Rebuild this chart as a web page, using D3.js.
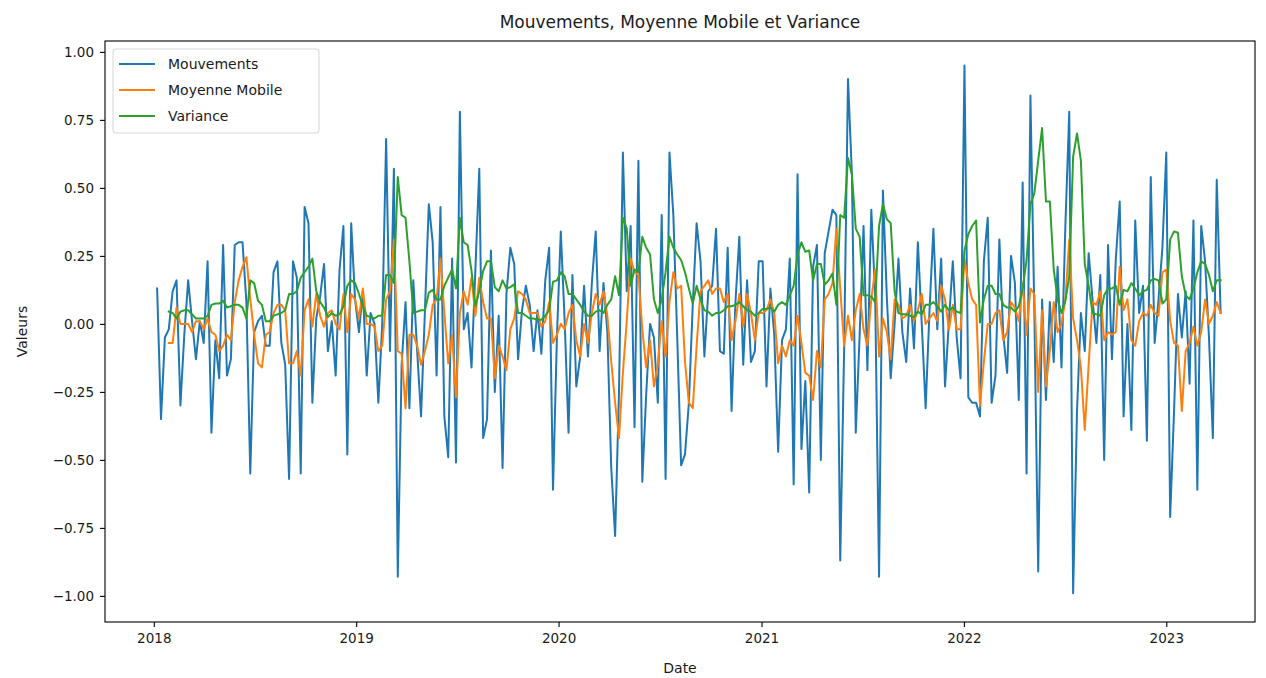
<!DOCTYPE html>
<meta charset="utf-8">
<html>
<head>
<style>
  body { margin: 0; background: #fff; }
  svg text { font-family: 'DejaVu Sans', sans-serif; fill: #1a1a1a; }
  .axis path, .axis line { stroke: #000; }
</style>
</head>
<body>
<svg id="chart" width="1266" height="678"></svg>
<script src="https://cdn.jsdelivr.net/npm/d3@7/dist/d3.min.js"></script>
<script>
// weekly series, first week = 2018-01-07
var startDate = new Date(2018, 0, 7);

var mouvements = [
  0.13, -0.35, -0.05, -0.02, 0.12, 0.16, -0.30, -0.04, 0.16, 0.01,
  -0.13, 0.01, -0.07, 0.23, -0.40, -0.06, -0.20, 0.29, -0.19, -0.13,
  0.29, 0.30, 0.30, 0.08, -0.55, -0.03, 0.01, 0.03, -0.08, -0.08,
  0.19, 0.23, -0.07, -0.15, -0.57, 0.23, 0.17, -0.55, 0.43, 0.37,
  -0.29, 0.02, 0.10, 0.22, -0.10, 0.01, -0.19, 0.20, 0.36, -0.48,
  0.37, 0.09, -0.03, 0.12, -0.19, 0.04, 0.00, -0.29, 0.00, 0.68,
  -0.10, 0.57, -0.93, -0.15, 0.08, -0.31, 0.16, -0.10, -0.34, 0.05,
  0.44, 0.30, -0.19, 0.43, -0.34, -0.49, 0.24, -0.51, 0.78, -0.02,
  0.04, -0.16, 0.20, 0.57, -0.42, -0.35, 0.27, -0.25, 0.03, -0.53,
  0.11, 0.28, 0.22, -0.13, 0.05, 0.14, 0.07, -0.10, 0.05, -0.11,
  0.16, 0.28, -0.61, -0.05, 0.34, 0.01, -0.40, 0.18, -0.23, -0.12,
  0.14, -0.12, 0.15, 0.34, -0.10, 0.15, -0.03, -0.53, -0.78, -0.25,
  0.63, 0.12, 0.36, -0.38, 0.60, -0.58, -0.26, 0.00, -0.05, -0.29,
  0.40, -0.57, 0.63, 0.40, -0.05, -0.52, -0.48, -0.29, 0.07, 0.37,
  0.23, -0.12, 0.12, 0.14, 0.35, -0.10, -0.11, 0.28, -0.32, 0.08,
  0.32, -0.15, 0.16, -0.14, -0.10, 0.23, 0.23, -0.23, 0.13, -0.04,
  -0.47, -0.06, -0.02, 0.24, -0.59, 0.55, -0.46, -0.21, -0.62, 0.21,
  0.29, -0.50, 0.26, 0.34, 0.42, 0.40, -0.87, -0.09, 0.90, 0.55,
  -0.40, -0.04, 0.36, -0.17, 0.42, 0.10, -0.93, 0.49, 0.10, -0.20,
  0.00, 0.24, -0.03, -0.14, 0.13, -0.09, 0.30, 0.00, -0.31, 0.05,
  0.35, -0.02, 0.24, -0.23, 0.01, 0.23, -0.05, -0.20, 0.95, -0.27,
  -0.29, -0.29, -0.34, 0.23, 0.39, -0.29, -0.19, 0.31, -0.04, -0.18,
  0.25, 0.15, -0.28, 0.52, -0.55, 0.84, 0.05, -0.91, 0.09, -0.28,
  0.08, -0.14, 0.21, -0.16, 0.36, 0.78, -0.99, -0.32, 0.04, -0.10,
  0.26, 0.09, -0.07, 0.18, -0.50, 0.29, -0.13, 0.24, 0.45, -0.34,
  0.00, -0.39, 0.38, 0.04, 0.14, -0.43, 0.54, -0.07, 0.09, 0.28,
  0.63, -0.71, -0.32, 0.11, -0.05, 0.12, -0.22, 0.38, -0.61, 0.36,
  0.23, -0.05, -0.42, 0.53, 0.04
];

var moyenneMobile = [
  null, null, null, -0.07, -0.07, 0.06, 0.00, 0.00, 0.00, -0.03,
  0.01, 0.01, -0.02, 0.02, -0.03, -0.04, -0.10, -0.08, -0.04, -0.06,
  0.08, 0.16, 0.21, 0.245, 0.09, -0.04, -0.145, -0.16, -0.04, -0.03,
  0.04, 0.07, 0.07, 0.05, -0.145, -0.145, -0.10, -0.19, 0.05, 0.09,
  -0.01, 0.11, 0.03, -0.01, 0.04, 0.05, 0.00, -0.02, 0.11, -0.03,
  0.11, 0.09, 0.02, 0.13, 0.00, 0.00, -0.01, -0.10, -0.08, 0.09,
  0.12, 0.31, -0.10, -0.11, -0.31, -0.04, -0.04, -0.08, -0.15, -0.10,
  -0.04, 0.07, 0.09, 0.24, 0.04, -0.145, -0.04, -0.27, 0.04, 0.12,
  0.07, 0.17, 0.03, 0.17, 0.08, 0.02, 0.02, -0.20, -0.08, -0.12,
  -0.17, -0.02, 0.02, 0.12, 0.11, 0.09, 0.04, 0.04, 0.04, -0.01,
  0.01, 0.08, -0.07, -0.04, 0.00, -0.02, 0.04, 0.07, -0.06, -0.12,
  0.00, -0.07, 0.04, 0.11, 0.07, 0.12, 0.03, -0.14, -0.29, -0.42,
  -0.18, 0.01, 0.24, 0.19, 0.18, -0.02, -0.16, -0.06, -0.23, -0.15,
  0.01, -0.12, 0.08, 0.19, 0.13, 0.14, -0.14, -0.29, -0.31, -0.08,
  0.12, 0.14, 0.16, 0.11, 0.13, 0.13, 0.08, 0.11, -0.06, 0.01,
  0.11, -0.01, 0.11, 0.04, -0.06, 0.04, 0.04, 0.05, 0.09, 0.04,
  -0.145, -0.08, -0.12, -0.06, -0.08, 0.03, -0.07, -0.18, -0.19, -0.28,
  -0.10, -0.16, 0.09, 0.11, 0.15, 0.35, 0.13, -0.08, 0.03, -0.06,
  0.05, 0.11, -0.02, -0.08, 0.09, 0.20, -0.12, 0.02, -0.03, -0.13,
  0.09, 0.07, 0.02, 0.03, 0.07, 0.01, 0.05, 0.11, 0.00, 0.02,
  0.04, 0.01, 0.14, 0.09, -0.02, 0.07, -0.02, -0.02, 0.24, 0.15,
  0.09, 0.07, -0.30, -0.14, 0.00, 0.00, 0.04, 0.05, -0.06, -0.03,
  0.08, 0.06, 0.01, 0.15, -0.04, 0.13, 0.11, -0.25, 0.05, -0.23,
  -0.10, 0.08, -0.03, 0.00, 0.09, 0.31, 0.02, -0.06, -0.16, -0.39,
  -0.15, 0.08, 0.07, 0.12, -0.06, -0.03, -0.04, -0.03, 0.21, 0.05,
  0.09, -0.06, -0.08, 0.01, 0.04, 0.03, 0.07, 0.04, 0.03, 0.19,
  0.20, 0.01, -0.07, -0.08, -0.32, -0.10, -0.07, -0.01, -0.08, -0.03,
  0.09, 0.00, 0.03, 0.08, 0.04
];

var variance = [
  null, null, null, 0.045, 0.04, 0.02, 0.045, 0.05, 0.05, 0.035,
  0.02, 0.02, 0.02, 0.03, 0.07, 0.075, 0.075, 0.085, 0.06, 0.065,
  0.07, 0.07, 0.06, 0.02, 0.16, 0.15, 0.085, 0.07, 0.01, 0.01,
  0.03, 0.035, 0.04, 0.05, 0.11, 0.11, 0.12, 0.17, 0.19, 0.21,
  0.24, 0.12, 0.08, 0.06, 0.025, 0.04, 0.03, 0.035, 0.065, 0.14,
  0.16, 0.15, 0.11, 0.065, 0.03, 0.025, 0.02, 0.03, 0.03, 0.18,
  0.18, 0.15, 0.54, 0.40, 0.39, 0.23, 0.04, 0.045, 0.05, 0.05,
  0.115, 0.125, 0.09, 0.09, 0.14, 0.17, 0.20, 0.13, 0.39, 0.30,
  0.29, 0.195, 0.065, 0.12, 0.195, 0.23, 0.23, 0.135, 0.12, 0.16,
  0.13, 0.135, 0.145, 0.04, 0.04, 0.03, 0.02, 0.02, 0.015, 0.015,
  0.03, 0.05, 0.155, 0.16, 0.19, 0.175, 0.11, 0.11, 0.09, 0.07,
  0.045, 0.03, 0.03, 0.045, 0.05, 0.04, 0.07, 0.09, 0.175, 0.105,
  0.39, 0.35, 0.14, 0.20, 0.19, 0.32, 0.28, 0.255, 0.09, 0.04,
  0.09, 0.19, 0.32, 0.28, 0.255, 0.235, 0.19, 0.13, 0.075, 0.14,
  0.09, 0.05, 0.045, 0.03, 0.04, 0.04, 0.05, 0.065, 0.065, 0.07,
  0.08, 0.065, 0.05, 0.045, 0.03, 0.04, 0.055, 0.055, 0.06, 0.045,
  0.07, 0.08, 0.07, 0.105, 0.14, 0.255, 0.30, 0.265, 0.27, 0.16,
  0.22, 0.22, 0.145, 0.16, 0.185, 0.07, 0.40, 0.39, 0.61, 0.55,
  0.35, 0.32, 0.105, 0.105, 0.10, 0.08, 0.36, 0.44, 0.385, 0.37,
  0.12, 0.04, 0.035, 0.035, 0.03, 0.025, 0.045, 0.035, 0.07, 0.07,
  0.08, 0.065, 0.045, 0.07, 0.05, 0.06, 0.045, 0.04, 0.27, 0.33,
  0.36, 0.38, 0.005, 0.09, 0.14, 0.14, 0.11, 0.11, 0.07, 0.06,
  0.06, 0.045, 0.065, 0.13, 0.235, 0.44, 0.48, 0.60, 0.72, 0.45,
  0.45, 0.20, 0.09, 0.04, 0.085, 0.175, 0.615, 0.70, 0.60, 0.22,
  0.14, 0.04, 0.035, 0.03, 0.105, 0.13, 0.13, 0.14, 0.07, 0.125,
  0.12, 0.15, 0.13, 0.105, 0.12, 0.125, 0.16, 0.165, 0.16, 0.075,
  0.09, 0.31, 0.34, 0.335, 0.175, 0.105, 0.09, 0.13, 0.19, 0.23,
  0.22, 0.18, 0.12, 0.16, 0.16
];

var seriesNames = ["Mouvements", "Moyenne Mobile", "Variance"];
var colors = ["#1f77b4", "#ff7f0e", "#2ca02c"];
var xTickYears = [2018, 2019, 2020, 2021, 2022, 2023];
var yTickValues = [-1.00, -0.75, -0.50, -0.25, 0.00, 0.25, 0.50, 0.75, 1.00];

// plot box (note: "top" is a reserved window property, so use other names)
var plotLeft = 105, plotRight = 1255, plotTop = 41, plotBottom = 622;

var svg = d3.select("#chart");

var x = d3.scaleTime()
    .domain([new Date(2017, 9, 5), new Date(2023, 5, 10)])
    .range([plotLeft, plotRight]);

var y = d3.scaleLinear()
    .domain([-1.096, 1.040])
    .range([plotBottom, plotTop]);

var dates = mouvements.map(function (d, i) { return d3.timeWeek.offset(startDate, i); });

// lines
var line = d3.line()
    .defined(function (d) { return d[1] != null; })
    .x(function (d) { return x(d[0]); })
    .y(function (d) { return y(d[1]); });

[mouvements, moyenneMobile, variance].forEach(function (serie, k) {
    var pts = serie.map(function (v, i) { return [dates[i], v]; });
    svg.append("path")
        .datum(pts)
        .attr("fill", "none")
        .attr("stroke", colors[k])
        .attr("stroke-width", 2)
        .attr("stroke-linejoin", "round")
        .attr("stroke-linecap", "square")
        .attr("d", line);
});

// axes
var fmt = function (v) { return v.toFixed(2).replace("-", "\u2212"); };

var gx = svg.append("g")
    .attr("class", "axis")
    .attr("transform", "translate(0," + plotBottom + ")")
    .call(d3.axisBottom(x)
        .tickValues(xTickYears.map(function (yr) { return new Date(yr, 0, 1); }))
        .tickFormat(d3.timeFormat("%Y"))
        .tickSize(5)
        .tickPadding(6));

var gy = svg.append("g")
    .attr("class", "axis")
    .attr("transform", "translate(" + plotLeft + ",0)")
    .call(d3.axisLeft(y)
        .tickValues(yTickValues)
        .tickFormat(fmt)
        .tickSize(5)
        .tickPadding(6));

[gx, gy].forEach(function (g) {
    g.select(".domain").remove();
    g.selectAll("text").attr("font-size", 13.5).attr("fill", "#1a1a1a")
        .style("font-family", "'DejaVu Sans', sans-serif");
    g.selectAll("line").attr("stroke-width", 1.1);
});

// frame
svg.append("rect")
    .attr("x", plotLeft).attr("y", plotTop)
    .attr("width", plotRight - plotLeft).attr("height", plotBottom - plotTop)
    .attr("fill", "none").attr("stroke", "#000").attr("stroke-width", 1.1);

// title and labels
svg.append("text")
    .attr("x", (plotLeft + plotRight) / 2).attr("y", 28)
    .attr("text-anchor", "middle")
    .attr("font-size", 17)
    .text("Mouvements, Moyenne Mobile et Variance");

svg.append("text")
    .attr("x", (plotLeft + plotRight) / 2).attr("y", 673)
    .attr("text-anchor", "middle")
    .attr("font-size", 14)
    .text("Date");

svg.append("text")
    .attr("transform", "translate(27," + ((plotTop + plotBottom) / 2) + ") rotate(-90)")
    .attr("text-anchor", "middle")
    .attr("font-size", 14)
    .text("Valeurs");

// legend
var lg = svg.append("g").attr("transform", "translate(113,49)");
lg.append("rect")
    .attr("width", 206).attr("height", 84)
    .attr("rx", 3)
    .attr("fill", "#fff").attr("fill-opacity", 0.8)
    .attr("stroke", "#d6d6d6");

seriesNames.forEach(function (name, k) {
    var cy = 15 + k * 26;
    lg.append("line")
        .attr("x1", 6).attr("x2", 42)
        .attr("y1", cy).attr("y2", cy)
        .attr("stroke", colors[k]).attr("stroke-width", 2);
    lg.append("text")
        .attr("x", 55).attr("y", cy + 5)
        .attr("font-size", 14)
        .text(name);
});
</script>
</body>
</html>
